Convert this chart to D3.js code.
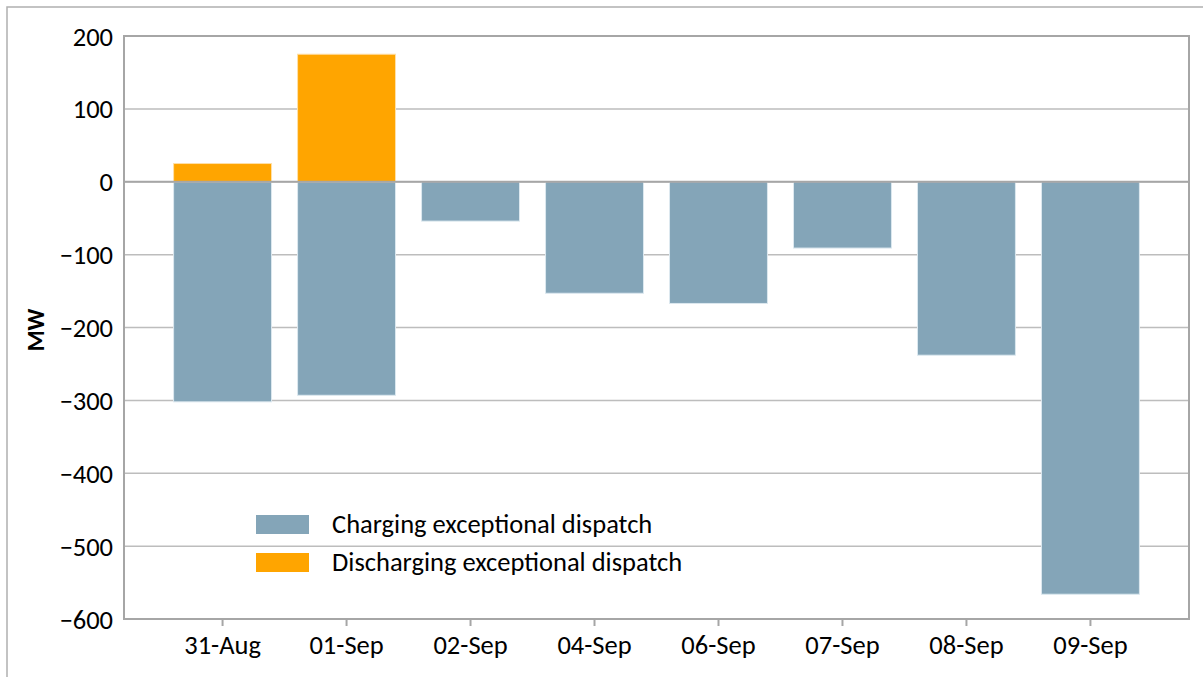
<!DOCTYPE html>
<html>
<head>
<meta charset="utf-8">
<script src="https://cdn.jsdelivr.net/npm/d3@7"></script>
<style>
  body { margin: 0; background: #fff; }
  svg { display: block; }
  text { font-family: Carlito, Calibri, Lato, "Open Sans", sans-serif; fill: #000; }
</style>
</head>
<body>
<svg id="chart" width="1203" height="677"></svg>
<script>
const categories = ["31-Aug", "01-Sep", "02-Sep", "04-Sep", "06-Sep", "07-Sep", "08-Sep", "09-Sep"];
const charging = [-302, -293, -54, -153, -167, -91, -238, -566];
const discharging = [25, 175, 0, 0, 0, 0, 0, 0];
const seriesNames = ["Charging exceptional dispatch", "Discharging exceptional dispatch"];
const seriesColors = ["#84a5b8", "#ffa500"];
const yTicks = [200, 100, 0, -100, -200, -300, -400, -500, -600];
const yLabel = "MW";

const svg = d3.select("#chart");
const W = 1203, H = 677;
const m = { left: 124, right: 1189, top: 36, bottom: 619 };
const FS = 26.5;

// outer border
svg.append("rect").attr("x", 7).attr("y", 7).attr("width", W + 10).attr("height", H + 10)
  .attr("fill", "none").attr("stroke", "#b0b0b0").attr("stroke-width", 1.5);

const x = d3.scaleBand().domain(categories).range([m.left, m.right]).paddingInner(0.21).paddingOuter(0.40);
const y = d3.scaleLinear().domain([-600, 200]).range([m.bottom, m.top]);

// gridlines
svg.append("g").selectAll("line").data(yTicks).join("line")
  .attr("x1", m.left).attr("x2", m.right)
  .attr("y1", d => y(d)).attr("y2", d => y(d))
  .attr("stroke", "#bdbdbd").attr("stroke-width", 1.5);

// bars
const g = svg.append("g");
g.selectAll("rect.chg").data(categories).join("rect").attr("class", "chg")
  .attr("x", d => x(d)).attr("width", x.bandwidth())
  .attr("y", (d, i) => y(Math.max(0, charging[i])))
  .attr("height", (d, i) => Math.abs(y(charging[i]) - y(0)))
  .attr("fill", seriesColors[0]).attr("stroke", "#dce8ef").attr("stroke-width", 1);
g.selectAll("rect.dis").data(categories).join("rect").attr("class", "dis")
  .attr("x", d => x(d)).attr("width", x.bandwidth())
  .attr("y", (d, i) => y(discharging[i]))
  .attr("height", (d, i) => Math.abs(y(0) - y(discharging[i])))
  .style("display", (d, i) => discharging[i] ? null : "none")
  .attr("fill", seriesColors[1]).attr("stroke", "#ffe0a8").attr("stroke-width", 1);

// zero line
svg.append("line").attr("x1", m.left).attr("x2", m.right).attr("y1", y(0)).attr("y2", y(0))
  .attr("stroke", "#a6a6a6").attr("stroke-width", 2);

// plot frame
svg.append("rect").attr("x", m.left).attr("y", m.top)
  .attr("width", m.right - m.left).attr("height", m.bottom - m.top)
  .attr("fill", "none").attr("stroke", "#a6a6a6").attr("stroke-width", 2);

// y axis
const yAxis = d3.axisLeft(y).tickValues(yTicks).tickSize(0).tickPadding(11)
  .tickFormat(d => d < 0 ? "\u2212" + Math.abs(d) : String(d));
const ya = svg.append("g").attr("transform", `translate(${m.left},0)`).call(yAxis);
ya.select(".domain").remove();
ya.selectAll("text").attr("font-size", FS).attr("font-family", null).attr("dy", "0.34em");

// x axis
const xAxis = d3.axisBottom(x).tickSize(7).tickPadding(9);
const xa = svg.append("g").attr("transform", `translate(0,${m.bottom})`).call(xAxis);
xa.select(".domain").remove();
xa.selectAll("line").attr("stroke", "#a6a6a6").attr("stroke-width", 2);
xa.selectAll("text").attr("font-size", FS).attr("font-family", null);

// y label
svg.append("text").attr("transform", `translate(44,330) rotate(-90)`)
  .attr("text-anchor", "middle").attr("font-size", 24).attr("font-weight", "bold").text(yLabel);

// legend
const lg = svg.append("g");
seriesNames.forEach((name, i) => {
  const ly = 524 + i * 38;
  lg.append("rect").attr("x", 256).attr("y", ly - 9).attr("width", 53).attr("height", 19)
    .attr("fill", seriesColors[i]);
  lg.append("text").attr("x", 332).attr("y", ly).attr("dy", "0.35em")
    .attr("font-size", FS).text(name);
});
</script>
</body>
</html>
